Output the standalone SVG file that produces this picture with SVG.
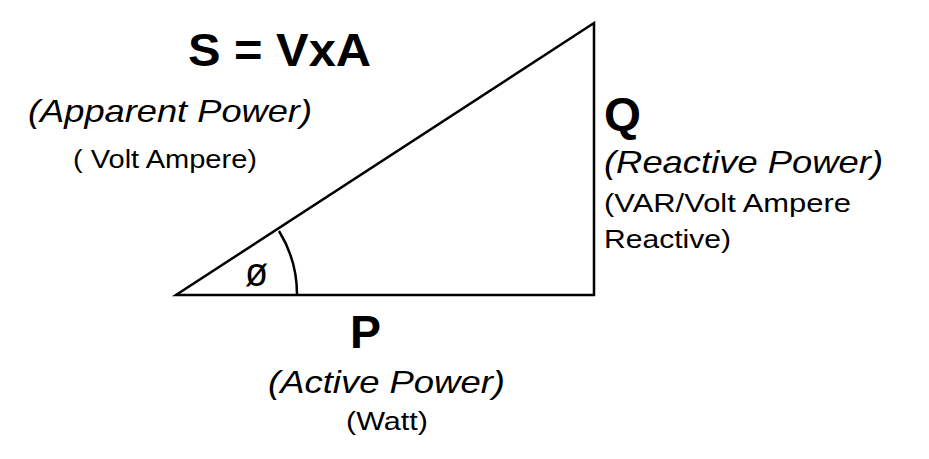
<svg xmlns="http://www.w3.org/2000/svg" width="929" height="459" viewBox="0 0 929 459">
<style>
text{font-family:"Liberation Sans",Arial,sans-serif;fill:#000}
.b{font-weight:bold}
.i{font-style:italic}
.ln{fill:none;stroke:#000;stroke-width:2.5}
</style>
<rect width="929" height="459" fill="#fff"/>
<g id="connectors">
<path class="ln" d="M176,295 L594,295 L594,23 Z" stroke-linejoin="miter"/>
<path class="ln" d="M279,231 A121,121 0 0 1 297,295" stroke-width="2"/>
</g>
<g id="angle"><text x="245" y="286" font-size="40" textLength="23" lengthAdjust="spacingAndGlyphs">ø</text></g>
<g id="S">
<text class="b" x="188" y="66" font-size="47" textLength="183" lengthAdjust="spacingAndGlyphs">S = VxA</text>
<text class="i" x="28" y="122" font-size="32" textLength="284" lengthAdjust="spacingAndGlyphs">(Apparent Power)</text>
<text x="73" y="168" font-size="25" textLength="184" lengthAdjust="spacingAndGlyphs">( Volt Ampere)</text>
</g>
<g id="Q">
<text class="b" x="604" y="130" font-size="46" textLength="37" lengthAdjust="spacingAndGlyphs">Q</text>
<text class="i" x="604" y="173" font-size="32" textLength="279" lengthAdjust="spacingAndGlyphs">(Reactive Power)</text>
<text x="604" y="212" font-size="26" textLength="247" lengthAdjust="spacingAndGlyphs">(VAR/Volt Ampere</text>
<text x="604" y="248" font-size="26" textLength="127" lengthAdjust="spacingAndGlyphs">Reactive)</text>
</g>
<g id="P">
<text class="b" x="350" y="348" font-size="46" textLength="31" lengthAdjust="spacingAndGlyphs">P</text>
<text class="i" x="268" y="393" font-size="32" textLength="237" lengthAdjust="spacingAndGlyphs">(Active Power)</text>
<text x="346" y="430" font-size="26" textLength="82" lengthAdjust="spacingAndGlyphs">(Watt)</text>
</g>
</svg>
